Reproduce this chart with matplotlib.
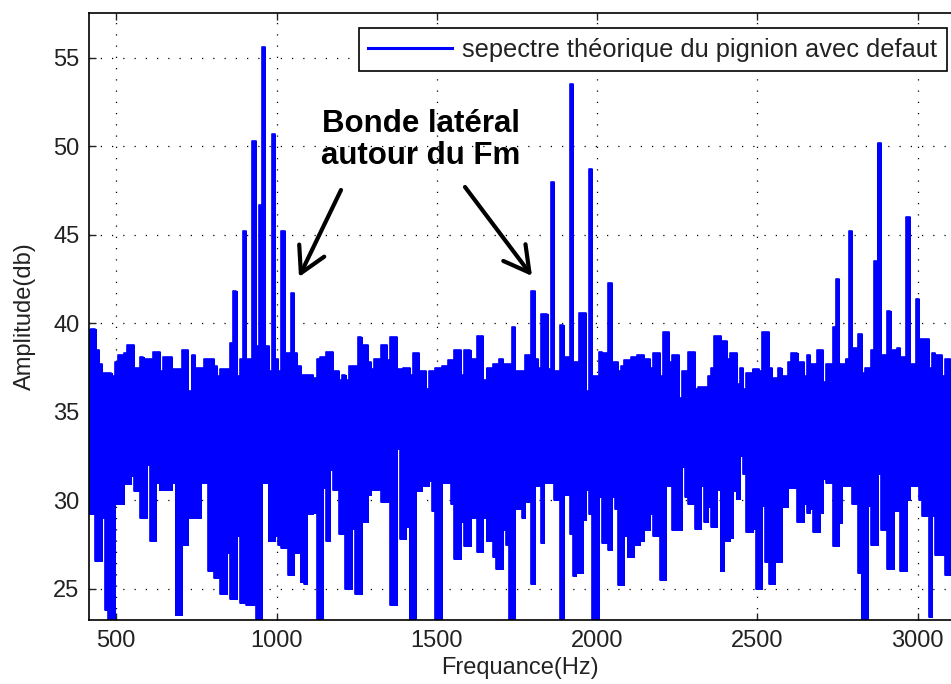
import matplotlib
matplotlib.use('Agg')
import matplotlib.pyplot as plt
import numpy as np

# ######################## Spectrum data ########################
# frequency bins every 10 Hz, with the max / min amplitude seen in each bin
freq = np.arange(420, 3101, 10)

upper = [
    39.7, 39.7, 38.5, 37.7, 37.2, 37.2, 37.2, 37.0, 37.8, 38.2,
    38.2, 38.3, 38.8, 38.8, 37.5, 37.5, 38.1, 38.0, 38.0, 38.0,
    38.4, 38.4, 37.3, 38.1, 38.1, 38.1, 37.4, 37.4, 37.4, 38.5,
    38.5, 36.2, 38.2, 37.5, 37.5, 37.5, 38.0, 38.0, 38.0, 37.6,
    37.0, 37.4, 37.4, 37.4, 38.9, 41.8, 37.0, 38.0, 45.2, 38.0,
    38.0, 50.3, 38.7, 46.7, 55.6, 38.7, 37.3, 50.7, 38.0, 37.3,
    45.2, 38.3, 38.3, 41.7, 38.3, 37.6, 37.1, 37.1, 37.1, 37.1,
    36.9, 38.0, 38.1, 38.1, 38.4, 38.4, 37.3, 37.3, 36.8, 37.1,
    36.8, 37.6, 37.6, 37.6, 39.2, 38.8, 38.8, 37.8, 37.4, 38.0,
    38.0, 38.8, 38.8, 37.9, 39.2, 39.2, 37.4, 37.4, 37.5, 37.5,
    37.1, 38.3, 38.3, 37.3, 37.3, 36.3, 37.3, 37.3, 37.5, 37.5,
    37.6, 37.6, 37.9, 37.9, 38.5, 38.5, 37.1, 38.5, 38.5, 38.0,
    38.0, 39.3, 39.3, 36.8, 37.5, 37.5, 37.7, 37.7, 38.0, 37.7,
    37.7, 37.7, 39.8, 37.3, 37.3, 37.3, 38.2, 38.2, 41.8, 38.0,
    37.5, 40.5, 40.5, 37.4, 48.0, 37.3, 37.3, 39.9, 38.1, 38.1,
    53.5, 37.8, 37.8, 40.6, 40.6, 36.2, 48.7, 37.0, 37.0, 38.4,
    38.3, 38.3, 42.3, 37.8, 37.8, 37.3, 37.6, 37.9, 37.9, 38.1,
    38.1, 38.2, 38.2, 38.0, 38.0, 37.5, 38.3, 38.3, 37.0, 39.5,
    39.5, 37.8, 38.2, 38.2, 35.8, 37.3, 37.3, 38.4, 38.4, 36.3,
    36.4, 36.4, 36.4, 37.0, 37.5, 39.3, 39.3, 39.0, 39.0, 38.0,
    38.3, 38.3, 36.6, 37.5, 36.3, 37.2, 37.2, 37.4, 37.4, 37.3,
    39.5, 39.5, 37.5, 36.9, 36.9, 37.5, 37.0, 37.0, 37.8, 38.3,
    38.3, 37.8, 37.8, 37.0, 38.2, 37.7, 37.7, 38.5, 38.5, 36.7,
    37.7, 37.7, 39.8, 42.5, 37.7, 37.7, 38.0, 45.2, 38.6, 38.6,
    39.4, 37.2, 37.5, 37.5, 38.5, 43.5, 50.2, 38.2, 38.2, 40.7,
    38.5, 38.5, 38.6, 38.1, 38.1, 46.0, 37.7, 37.7, 41.4, 39.1,
    39.1, 39.1, 37.5, 38.3, 38.2, 38.2, 37.0, 38.0, 38.0,
]

lower = [
    29.2, 29.2, 26.6, 26.6, 29.0, 23.8, 22.5, 22.5, 29.8, 29.8,
    29.8, 30.9, 30.9, 31.4, 30.5, 30.5, 29.0, 29.0, 32.0, 27.7,
    27.7, 31.0, 30.6, 30.6, 30.6, 30.6, 31.0, 23.5, 23.5, 27.5,
    27.5, 29.0, 29.0, 29.0, 29.0, 31.0, 31.0, 26.0, 26.0, 25.6,
    25.6, 24.7, 24.7, 27.0, 24.4, 24.4, 28.0, 24.2, 24.2, 24.1,
    24.1, 24.1, 22.5, 22.5, 31.0, 31.0, 27.7, 27.7, 28.0, 27.5,
    27.3, 27.3, 25.8, 25.8, 27.0, 27.0, 25.4, 25.3, 29.2, 29.2,
    29.3, 22.5, 22.5, 30.7, 27.7, 31.7, 30.6, 30.6, 28.1, 28.1,
    25.0, 25.0, 28.4, 24.7, 24.7, 28.8, 28.8, 30.3, 30.6, 30.6,
    30.6, 29.9, 29.9, 29.9, 24.1, 24.1, 32.9, 27.8, 27.8, 28.5,
    22.5, 22.5, 30.5, 30.5, 30.8, 30.8, 31.1, 29.4, 22.5, 22.5,
    31.0, 31.0, 31.0, 29.8, 26.7, 26.7, 28.8, 27.4, 27.4, 29.0,
    29.0, 27.1, 27.1, 29.0, 27.7, 27.7, 26.8, 26.1, 26.1, 28.3,
    27.5, 22.5, 22.5, 29.5, 29.5, 29.0, 29.9, 29.9, 25.3, 30.8,
    30.8, 27.6, 31.0, 31.0, 31.0, 30.0, 30.0, 22.5, 30.3, 30.3,
    28.1, 25.7, 25.9, 25.9, 28.9, 30.6, 29.2, 22.5, 22.5, 30.2,
    27.6, 27.6, 27.2, 30.2, 29.5, 25.2, 25.2, 28.0, 26.8, 26.8,
    27.5, 27.5, 27.7, 28.3, 28.3, 29.2, 28.0, 28.0, 25.5, 25.5,
    30.8, 30.8, 28.3, 28.3, 28.3, 31.9, 30.2, 29.8, 29.8, 28.4,
    28.4, 30.8, 28.8, 29.6, 28.5, 28.5, 30.6, 26.0, 27.7, 27.7,
    27.9, 30.5, 30.1, 32.5, 31.5, 28.2, 28.2, 28.4, 25.0, 25.0,
    29.7, 26.5, 25.3, 25.3, 26.5, 26.5, 29.6, 29.6, 30.7, 30.7,
    30.7, 28.8, 28.8, 29.8, 29.3, 29.5, 28.2, 28.2, 29.3, 31.2,
    31.0, 31.0, 27.4, 27.4, 28.7, 30.8, 30.8, 30.8, 29.8, 29.8,
    25.9, 22.5, 22.5, 29.7, 27.5, 27.5, 31.5, 28.3, 28.3, 26.1,
    26.1, 29.4, 29.4, 26.0, 26.0, 30.0, 30.8, 30.8, 30.8, 30.0,
    29.1, 29.1, 23.4, 29.1, 26.9, 26.9, 26.9, 25.8, 25.8,
]

xticks = [500, 1000, 1500, 2000, 2500, 3000]
yticks = [25, 30, 35, 40, 45, 50, 55]

BLUE = '#0000ff'
TXT = '#222222'

# ######################## Plot ########################
plt.rcParams['font.family'] = ['Liberation Sans', 'DejaVu Sans']

fig = plt.figure(figsize=(9.51, 6.84), dpi=100)
ax = fig.add_axes([89 / 951, 64 / 684, 862 / 951, 607 / 684])

# each bin is a solid span from its min to its max amplitude
span = np.subtract(upper, lower)
ax.bar(freq, span, bottom=lower, width=10.6, color=BLUE, edgecolor=BLUE,
       linewidth=0.5, antialiased=False)
ax.step(freq, upper, where='mid', color=BLUE, linewidth=1.2,
        label='sepectre théorique du pignion avec defaut')
ax.step(freq, lower, where='mid', color=BLUE, linewidth=1.2)

ax.set_xlim(415, 3104)
ax.set_ylim(23.24, 57.53)
ax.set_xticks(xticks)
ax.set_yticks(yticks)
ax.set_axisbelow(True)
ax.grid(True, color='black', linestyle=(0, (1, 8)), linewidth=0.9)

ax.spines['right'].set_visible(False)
for s in ['left', 'top', 'bottom']:
    ax.spines[s].set_linewidth(1.2)
ax.tick_params(direction='in', length=5, width=1, top=True, right=False,
               labelsize=17, colors=TXT, pad=7)

ax.set_xlabel('Frequance(Hz)', fontsize=17, color=TXT, labelpad=4)
ax.set_ylabel('Amplitude(db)', fontsize=17, color=TXT, labelpad=12)

leg = ax.legend(loc='upper right', bbox_to_anchor=(947 / 951, 1 - 28 / 684),
                bbox_transform=fig.transFigure, borderaxespad=0,
                fontsize=18.3, handlelength=3.3, fancybox=False, framealpha=1,
                edgecolor='black', borderpad=0.38, handletextpad=0.4)
leg.get_frame().set_linewidth(1.2)
for t in leg.get_texts():
    t.set_color(TXT)
leg.get_lines()[0].set_linewidth(2.2)

# annotation about the side bands
fig.text(421 / 951, 1 - 140 / 684, 'Bonde latéral\nautour du Fm',
         ha='center', va='center', fontsize=22.5, fontweight='bold',
         linespacing=1.05)
arrow_style = dict(arrowstyle='->,head_length=0.9,head_width=0.5',
                   lw=3, color='black', mutation_scale=20,
                   shrinkA=0, shrinkB=0)
ax.annotate('', xy=(299, 684 - 277), xycoords='figure pixels',
            xytext=(341, 684 - 190), textcoords='figure pixels',
            arrowprops=arrow_style)
ax.annotate('', xy=(532, 684 - 276), xycoords='figure pixels',
            xytext=(465, 684 - 187), textcoords='figure pixels',
            arrowprops=arrow_style)

fig.savefig('out.png', dpi=100)
